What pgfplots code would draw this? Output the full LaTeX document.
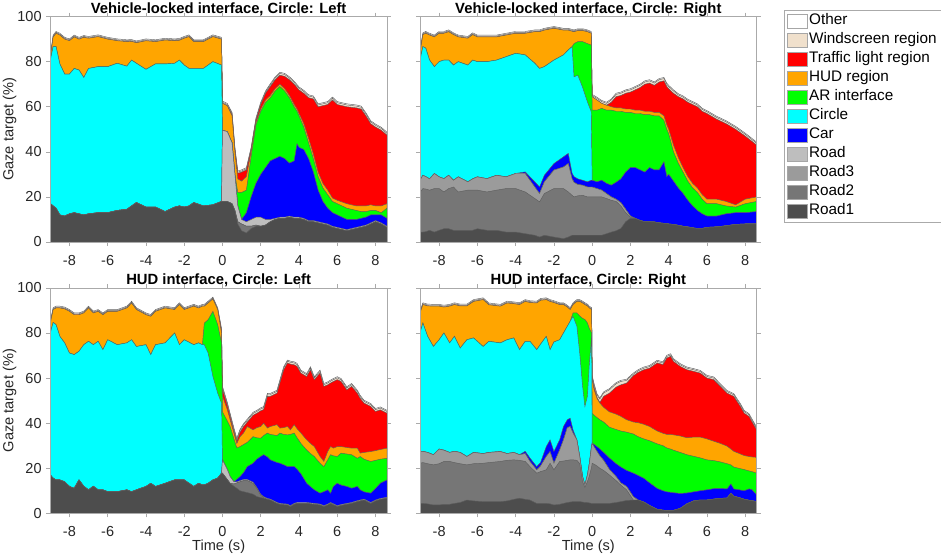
\documentclass[border=0pt]{standalone}
\usepackage{fontspec}
\setmainfont{Liberation Sans}
\usepackage{pgfplots}
\usepackage{pgfplotstable}
\pgfplotsset{compat=1.18}

\definecolor{cOther}{RGB}{255,255,255}
\definecolor{cWind}{RGB}{240,224,204}
\definecolor{cTL}{RGB}{255,0,0}
\definecolor{cHUD}{RGB}{255,165,0}
\definecolor{cAR}{RGB}{0,255,0}
\definecolor{cCir}{RGB}{0,255,255}
\definecolor{cCar}{RGB}{0,0,255}
\definecolor{cRd}{RGB}{190,190,190}
\definecolor{cRthree}{RGB}{155,155,155}
\definecolor{cRtwo}{RGB}{118,118,118}
\definecolor{cRone}{RGB}{77,77,77}
\definecolor{edgecol}{RGB}{95,95,95}
\definecolor{framecol}{RGB}{170,170,170}
\definecolor{labcol}{RGB}{38,38,38}

% columns: t r1 r2 r3 rd car cir ar hud tl ws oth  (cumulative tops of each layer)
\pgfplotstableread{
t r1 r2 r3 rd car cir ar hud tl ws oth
-9.00 17.0 17.0 17.0 17.0 17.0 80.7 80.7 82.0 82.0 82.4 82.8
-8.85 16.0 16.0 16.0 16.0 16.0 86.7 86.7 91.0 91.0 91.4 91.8
-8.70 15.0 15.0 15.0 15.0 15.0 86.7 86.7 92.6 92.6 93.0 93.4
-8.50 12.0 12.0 12.0 12.0 12.0 79.0 79.0 91.8 91.8 92.2 92.6
-8.25 11.5 11.5 11.5 11.5 11.5 74.5 74.5 90.0 90.0 90.4 90.8
-8.00 12.5 12.5 12.5 12.5 12.5 74.5 74.5 89.3 89.3 89.7 90.1
-7.75 13.0 13.0 13.0 13.0 13.0 77.0 77.0 91.0 91.0 91.4 91.8
-7.50 12.5 12.5 12.5 12.5 12.5 76.3 76.3 90.0 90.0 90.4 90.8
-7.25 12.0 12.0 12.0 12.0 12.0 73.0 73.0 90.8 90.8 91.2 91.6
-7.00 12.5 12.5 12.5 12.5 12.5 77.0 77.0 90.4 90.4 90.8 91.2
-6.50 13.0 13.0 13.0 13.0 13.0 77.8 77.8 91.1 91.1 91.5 91.9
-6.00 13.0 13.0 13.0 13.0 13.0 77.8 77.8 90.0 90.0 90.4 90.8
-5.50 14.0 14.0 14.0 14.0 14.0 79.3 79.3 89.3 89.3 89.7 90.1
-5.00 14.5 14.5 14.5 14.5 14.5 78.0 78.0 88.9 88.9 89.3 89.7
-4.75 16.0 16.0 16.0 16.0 16.0 80.7 80.7 89.0 89.0 89.4 89.8
-4.50 17.5 17.5 17.5 17.5 17.5 79.3 79.3 88.4 88.4 88.8 89.2
-4.00 15.5 15.5 15.5 15.5 15.5 76.6 76.6 89.3 89.3 89.7 90.1
-3.50 15.5 15.5 15.5 15.5 15.5 79.0 79.0 88.9 88.9 89.3 89.7
-3.00 13.5 13.5 13.5 13.5 13.5 79.0 79.0 89.6 89.6 90.0 90.4
-2.50 15.5 15.5 15.5 15.5 15.5 79.3 79.3 89.3 89.3 89.7 90.1
-2.25 16.0 16.0 16.0 16.0 16.0 80.7 80.7 89.5 89.5 89.9 90.3
-2.00 15.5 15.5 15.5 15.5 15.5 78.5 78.5 90.4 90.4 90.8 91.2
-1.75 16.0 16.0 16.0 16.0 16.0 77.0 77.0 91.1 91.1 91.5 91.9
-1.50 17.5 17.5 17.5 17.5 17.5 77.0 77.0 88.9 88.9 89.3 89.7
-1.00 16.0 16.0 16.0 16.0 16.0 77.0 77.0 88.9 88.9 89.3 89.7
-0.50 16.5 16.5 16.5 16.5 16.5 80.0 80.0 91.1 91.1 91.5 91.9
-0.05 18.0 18.0 18.0 18.0 18.0 78.5 78.5 90.0 90.0 90.4 90.8
0.00 18.0 18.0 18.0 49.5 49.5 49.5 49.5 61.5 61.5 62.0 62.5
0.25 18.0 18.0 18.0 49.0 49.0 49.0 49.0 60.5 60.5 61.0 61.5
0.50 17.0 17.0 17.0 44.0 44.0 44.0 44.0 56.0 56.5 57.0 57.5
0.65 14.0 14.0 14.0 30.0 30.0 30.0 30.0 40.0 41.0 41.5 42.0
0.80 8.0 9.0 9.0 16.0 16.0 16.0 22.0 28.0 30.5 31.0 31.5
1.00 5.0 8.0 8.0 10.0 10.0 10.0 22.0 27.0 31.0 31.5 32.0
1.25 4.0 7.0 7.0 9.0 13.0 13.0 23.0 29.0 32.0 32.5 33.0
1.50 6.0 7.0 7.0 10.0 20.0 20.0 38.0 40.0 41.0 41.5 42.0
1.75 7.0 7.5 7.5 11.0 26.0 26.0 52.0 53.0 54.0 54.5 55.0
2.00 7.0 7.0 7.0 11.0 30.0 30.0 58.0 59.0 61.0 61.5 62.0
2.25 7.5 7.5 7.5 10.0 33.0 33.0 62.0 63.0 66.0 66.5 67.0
2.50 9.0 9.0 9.0 10.0 36.0 36.0 64.0 65.0 69.0 69.7 70.2
2.75 10.0 10.0 10.0 10.5 37.0 37.0 67.0 68.0 72.0 72.7 73.2
3.00 10.5 10.5 10.5 11.0 38.0 38.0 69.0 70.0 74.0 74.8 75.3
3.25 10.5 10.5 10.5 11.0 37.0 37.0 67.0 68.0 73.5 74.3 74.8
3.50 11.0 11.0 11.0 11.5 35.0 35.0 64.0 65.0 72.0 72.8 73.3
3.75 10.5 10.5 10.5 11.0 36.0 36.0 60.0 61.0 70.0 70.8 71.3
3.90 10.5 10.5 10.5 11.0 43.5 43.5 58.0 59.0 68.5 69.3 69.8
4.00 10.5 10.5 10.5 11.0 42.0 42.0 56.0 57.0 67.5 68.3 68.8
4.25 10.0 10.0 10.0 10.5 41.0 41.0 51.0 52.5 66.0 66.8 67.3
4.50 9.0 9.0 9.0 9.5 37.0 37.0 44.0 46.0 64.0 64.8 65.3
4.75 9.0 9.0 9.0 9.5 31.0 31.0 37.0 39.0 63.5 64.3 64.8
5.00 8.5 8.5 8.5 9.0 23.0 23.0 29.0 31.0 60.0 60.8 61.3
5.25 8.0 8.0 8.0 8.5 18.0 18.0 24.0 26.0 60.5 61.3 61.8
5.50 7.5 7.5 7.5 8.0 15.0 15.0 21.0 23.0 61.0 61.8 62.3
5.75 6.5 6.5 6.5 7.0 13.0 13.0 18.0 19.5 63.0 63.8 64.3
6.00 6.0 6.0 6.0 6.5 12.0 12.0 17.0 18.5 61.0 61.8 62.3
6.50 5.0 5.0 5.0 5.5 10.0 10.0 15.0 17.0 60.0 60.8 61.3
7.00 6.0 6.0 6.0 6.5 10.0 10.0 14.0 16.0 59.5 60.3 60.8
7.25 6.5 6.5 6.5 7.0 10.5 10.5 13.5 16.0 59.0 59.8 60.3
7.50 7.0 7.0 7.0 7.5 11.0 11.0 13.5 16.0 56.0 56.8 57.3
7.75 8.0 8.0 8.0 8.5 12.0 12.0 14.0 16.5 52.5 53.3 53.8
8.00 9.0 9.0 9.0 9.5 12.0 12.0 14.0 16.0 51.0 51.8 52.3
8.30 8.0 8.0 8.0 8.5 12.0 12.0 13.0 16.0 49.6 50.4 50.9
8.60 6.5 6.5 6.5 7.0 10.5 10.5 15.0 17.0 47.4 48.2 48.7
}\TA

\pgfplotstableread{
t r1 r2 r3 rd car cir ar hud tl ws oth
-9.00 4.4 22.0 27.4 27.4 27.4 80.7 80.7 84.0 84.0 84.4 84.8
-8.85 4.4 23.7 29.6 29.6 29.6 86.7 86.7 92.0 92.0 92.4 92.8
-8.70 4.6 23.5 29.0 29.0 29.0 86.0 86.0 92.6 92.6 93.0 93.4
-8.50 5.2 23.0 28.0 28.0 28.0 80.7 80.7 91.8 91.8 92.2 92.6
-8.25 4.4 23.7 30.4 30.4 30.4 77.8 77.8 91.0 91.0 91.4 91.8
-8.00 5.2 23.7 28.9 28.9 28.9 80.0 80.0 92.6 92.6 93.0 93.4
-7.75 5.9 22.2 28.1 28.1 28.1 80.7 80.7 92.6 92.6 93.0 93.4
-7.50 5.9 23.7 29.6 29.6 29.6 80.7 80.7 93.3 93.3 93.7 94.1
-7.25 5.2 24.4 27.4 27.4 27.4 78.5 78.5 92.0 92.0 92.4 92.8
-7.00 5.2 22.2 28.9 28.9 28.9 80.0 80.0 91.0 91.0 91.4 91.8
-6.50 5.2 23.0 26.7 26.7 26.7 78.5 78.5 90.4 90.4 90.8 91.2
-6.25 5.2 23.0 28.0 28.0 28.0 80.7 80.7 92.0 92.0 92.4 92.8
-6.00 5.9 23.0 28.9 28.9 28.9 80.0 80.0 91.0 91.0 91.4 91.8
-5.50 5.2 22.2 28.1 28.1 28.1 80.0 80.0 91.0 91.0 91.4 91.8
-5.00 5.2 23.0 29.6 29.6 29.6 80.7 80.7 91.0 91.0 91.4 91.8
-4.50 4.4 23.7 28.9 28.9 28.9 82.2 82.2 91.8 91.8 92.2 92.6
-4.00 4.4 23.7 30.4 30.4 30.4 83.7 83.7 92.6 92.6 93.0 93.4
-3.50 3.7 22.2 30.4 30.4 31.1 83.0 83.0 92.6 92.6 93.0 93.4
-3.00 3.0 19.3 24.4 24.4 26.7 79.3 79.3 93.3 93.3 93.7 94.1
-2.75 2.2 17.8 21.5 21.5 24.4 77.0 77.0 93.3 93.3 93.7 94.1
-2.50 3.0 21.5 26.7 26.7 29.6 77.8 77.8 94.0 94.0 94.4 94.8
-2.00 2.2 23.7 31.9 31.9 34.8 80.7 80.7 94.8 94.8 95.2 95.6
-1.50 1.5 23.7 33.3 33.3 37.8 83.0 83.0 94.0 94.0 94.4 94.8
-1.25 2.2 22.2 34.8 34.8 39.3 85.2 85.2 94.0 94.0 94.4 94.8
-1.05 3.0 20.7 28.0 28.0 30.5 86.7 86.7 93.5 93.5 93.9 94.3
-0.95 3.0 20.0 26.5 26.5 29.0 73.3 88.0 93.3 93.3 93.7 94.1
-0.75 3.0 20.5 25.5 25.5 28.0 74.0 88.9 93.8 93.8 94.2 94.6
-0.50 3.0 20.7 25.2 25.2 27.4 68.6 88.9 93.8 93.8 94.2 94.6
-0.25 3.0 20.0 24.4 24.4 26.7 62.2 88.0 93.3 93.3 93.7 94.1
-0.05 3.0 20.0 24.4 24.4 27.4 57.8 87.4 92.6 92.6 93.0 93.4
0.00 3.0 20.0 24.4 24.4 27.4 27.4 58.5 64.4 64.4 65.0 65.5
0.25 3.0 20.0 23.7 23.7 26.7 26.7 58.5 63.0 63.0 63.7 64.2
0.50 3.0 20.0 23.0 23.0 27.4 27.4 59.3 61.5 61.5 62.3 62.8
0.75 3.7 19.3 21.5 21.5 26.0 26.0 58.5 60.7 60.7 61.5 62.0
1.00 4.4 18.5 20.0 20.0 25.2 25.2 58.5 60.0 62.0 63.0 63.5
1.25 5.0 18.0 19.0 19.0 26.5 26.5 58.0 59.5 64.5 65.5 66.0
1.50 6.0 16.0 17.5 17.5 28.0 28.0 58.0 59.5 65.0 66.0 66.5
1.75 9.0 13.0 14.5 14.5 31.0 31.0 57.5 59.0 66.0 67.0 67.5
2.00 10.5 11.0 11.5 11.5 33.0 33.0 57.5 59.0 66.5 67.5 68.0
2.25 10.5 10.5 10.5 10.5 33.0 33.0 57.0 58.5 67.5 68.5 69.0
2.50 9.6 9.6 9.6 9.6 32.0 32.0 57.0 58.5 68.5 69.5 70.0
2.75 9.0 9.0 9.0 9.0 31.0 31.0 56.5 58.0 70.0 71.0 71.5
3.00 9.0 9.0 9.0 9.0 33.0 33.0 56.5 58.0 70.5 71.5 72.0
3.25 8.9 8.9 8.9 8.9 32.0 32.0 56.0 57.5 69.5 70.5 71.0
3.50 8.5 8.5 8.5 8.5 32.0 32.0 56.0 57.5 71.0 72.0 72.5
3.75 8.3 8.3 8.3 8.3 35.5 35.5 54.0 56.0 71.5 72.5 73.0
3.90 8.2 8.2 8.2 8.2 29.0 29.0 50.0 52.0 69.0 70.0 70.5
4.00 8.0 8.0 8.0 8.0 30.0 30.0 48.0 50.0 68.0 69.0 69.5
4.25 7.8 7.8 7.8 7.8 27.0 27.0 40.0 43.0 66.0 67.0 67.5
4.50 7.4 7.4 7.4 7.4 24.0 24.0 35.0 37.5 64.5 65.3 65.8
4.75 7.0 7.0 7.0 7.0 21.5 21.5 31.0 33.0 63.5 64.3 64.8
5.00 6.7 6.7 6.7 6.7 18.5 18.5 27.0 29.0 62.0 62.8 63.3
5.25 6.3 6.3 6.3 6.3 16.0 16.0 24.0 26.0 61.0 61.8 62.3
5.50 6.0 6.0 6.0 6.0 14.0 14.0 22.0 24.0 60.0 60.8 61.3
5.75 6.0 6.0 6.0 6.0 12.5 12.5 19.0 21.0 58.0 58.8 59.3
6.00 6.5 6.5 6.5 6.5 11.5 11.5 17.0 19.0 57.0 57.8 58.3
6.50 6.7 6.7 6.7 6.7 11.5 11.5 17.0 19.0 54.5 55.3 55.8
7.00 7.2 7.2 7.2 7.2 12.5 12.5 16.0 18.0 52.5 53.3 53.8
7.50 7.8 7.8 7.8 7.8 13.0 13.0 15.5 16.5 50.0 50.8 51.3
8.00 8.0 8.0 8.0 8.0 13.0 13.0 17.0 19.0 47.0 47.8 48.3
8.60 8.0 8.0 8.0 8.0 13.5 13.5 18.0 20.0 43.0 43.8 44.3
}\TB

\pgfplotstableread{
t r1 r2 r3 rd car cir ar hud tl ws oth
-9.00 17.0 17.0 17.0 17.0 17.0 80.0 80.0 84.4 84.4 84.8 85.2
-8.85 15.6 15.6 15.6 15.6 15.6 84.7 84.7 90.4 90.4 90.8 91.2
-8.70 14.8 14.8 14.8 14.8 14.8 83.7 83.7 91.1 91.1 91.5 91.9
-8.50 14.8 14.8 14.8 14.8 14.8 78.5 78.5 91.1 91.1 91.5 91.9
-8.25 14.0 14.0 14.0 14.0 14.0 75.6 75.6 90.7 90.7 91.1 91.5
-8.00 11.9 11.9 11.9 11.9 11.9 71.1 71.1 89.6 89.6 90.0 90.4
-7.75 11.1 11.1 11.1 11.1 11.1 70.4 70.4 88.1 88.1 88.5 88.9
-7.50 14.8 14.8 14.8 14.8 14.8 71.9 71.9 88.1 88.1 88.5 88.9
-7.25 12.0 12.0 12.0 12.0 12.0 74.8 74.8 88.9 88.9 89.3 89.7
-7.00 10.4 10.4 10.4 10.4 10.4 76.3 76.3 91.1 91.1 91.5 91.9
-6.75 12.0 12.0 12.0 12.0 12.0 74.8 74.8 88.9 88.9 89.3 89.7
-6.50 10.4 10.4 10.4 10.4 10.4 76.3 76.3 89.6 89.6 90.0 90.4
-6.25 10.4 10.4 10.4 10.4 10.4 72.6 72.6 88.1 88.1 88.5 88.9
-6.00 9.6 9.6 9.6 9.6 9.6 77.0 77.0 89.6 89.6 90.0 90.4
-5.50 9.6 9.6 9.6 9.6 9.6 74.8 74.8 89.6 89.6 90.0 90.4
-5.00 10.4 10.4 10.4 10.4 10.4 75.6 75.6 91.1 91.1 91.5 91.9
-4.75 9.6 9.6 9.6 9.6 9.6 77.0 77.0 93.3 93.3 93.7 94.1
-4.50 10.4 10.4 10.4 10.4 10.4 74.0 74.0 90.4 90.4 90.8 91.2
-4.00 11.9 11.9 11.9 11.9 11.9 74.8 74.8 88.1 88.1 88.5 88.9
-3.75 13.3 13.3 13.3 13.3 13.3 70.4 70.4 87.4 87.4 87.8 88.2
-3.50 11.9 11.9 11.9 11.9 11.9 74.8 74.8 89.6 89.6 90.0 90.4
-3.00 13.3 13.3 13.3 13.3 13.3 75.6 75.6 91.1 91.1 91.5 91.9
-2.50 14.8 14.8 14.8 14.8 14.8 80.0 80.0 90.4 90.4 90.8 91.2
-2.25 14.8 14.8 14.8 14.8 14.8 74.8 74.8 92.6 92.6 93.0 93.4
-2.00 14.8 14.8 14.8 14.8 14.8 77.0 77.0 90.4 90.4 90.8 91.2
-1.50 11.9 11.9 11.9 11.9 11.9 74.8 74.8 91.9 91.9 92.3 92.7
-1.25 13.3 13.3 13.3 13.3 13.3 75.6 75.6 91.1 91.1 91.5 91.9
-1.05 12.6 12.6 12.6 12.6 12.6 74.8 74.8 91.9 91.9 92.3 92.7
-0.95 12.6 12.6 12.6 12.6 12.6 74.8 84.4 91.9 91.9 92.3 92.7
-0.75 13.3 13.3 13.3 13.3 13.3 71.1 85.9 93.3 93.3 93.7 94.1
-0.50 14.8 14.8 14.8 14.8 14.8 60.7 89.6 95.1 95.1 95.5 95.9
-0.25 15.6 15.6 15.6 15.6 15.6 53.3 83.7 90.4 90.4 90.8 91.2
-0.05 17.8 17.8 17.8 17.8 17.8 48.9 75.6 80.0 81.0 81.5 82.0
0.00 17.8 17.8 17.8 23.7 23.7 23.7 45.0 52.0 55.0 55.8 56.3
0.25 15.0 15.0 15.0 19.5 19.5 19.5 41.0 46.0 48.0 48.8 49.3
0.40 13.3 13.3 13.3 16.3 16.3 16.3 38.5 41.5 43.0 43.8 44.3
0.60 12.0 13.0 13.0 14.0 14.0 14.0 33.0 35.5 36.5 37.3 37.8
0.75 11.1 13.5 13.5 14.0 15.0 15.0 29.0 31.0 32.0 32.8 33.3
0.92 10.0 14.0 14.0 14.5 16.3 16.3 29.6 34.0 36.0 36.8 37.3
1.10 9.6 14.5 14.5 15.0 18.0 18.0 30.5 35.6 38.5 39.3 39.8
1.30 9.2 14.5 14.5 15.0 20.7 20.7 31.5 38.5 40.5 41.3 41.8
1.60 8.5 13.3 13.3 13.8 22.2 22.2 34.0 37.0 43.5 44.3 44.8
1.80 7.4 11.0 11.0 11.4 24.0 24.0 33.5 38.0 44.4 45.2 45.7
2.00 7.0 8.0 8.0 8.4 25.2 25.2 33.3 38.5 45.5 46.3 46.8
2.15 6.7 7.0 7.0 7.4 26.0 26.0 34.5 40.0 46.0 46.8 47.3
2.35 6.2 6.2 6.2 6.6 25.0 25.0 35.6 37.8 51.9 52.7 53.2
2.50 5.9 5.9 5.9 6.3 23.7 23.7 35.0 38.5 51.9 52.7 53.2
2.85 4.4 4.4 4.4 4.8 22.5 22.5 34.5 39.3 53.3 54.1 54.6
3.00 4.0 4.0 4.0 4.4 22.2 22.2 35.6 37.8 57.8 58.6 59.1
3.20 3.8 3.8 3.8 4.2 21.5 21.5 35.0 38.0 63.7 64.5 65.0
3.40 3.7 3.7 3.7 4.1 20.7 20.7 34.8 38.5 66.7 67.5 68.0
3.55 3.0 3.0 3.0 3.4 20.7 20.7 35.0 37.0 66.2 67.0 67.5
3.75 4.0 4.0 4.0 4.4 20.7 20.7 35.6 39.3 65.9 66.7 67.2
3.90 4.4 4.4 4.4 4.8 19.5 19.5 33.5 37.5 65.2 66.0 66.5
4.10 4.4 4.4 4.4 4.8 17.5 17.5 31.0 35.6 62.2 63.0 63.5
4.40 4.4 4.4 4.4 4.8 13.3 13.3 28.1 32.6 60.7 61.5 62.0
4.60 4.2 4.2 4.2 4.6 11.8 11.8 26.5 31.0 63.7 64.5 65.0
4.80 4.0 4.0 4.0 4.4 10.4 10.4 25.2 29.6 59.3 60.1 60.6
5.10 3.7 3.7 3.7 4.1 8.9 8.9 22.2 25.2 62.2 63.0 63.5
5.30 3.0 3.0 3.0 3.4 9.6 9.6 20.7 23.0 56.3 57.1 57.6
5.50 3.7 3.7 3.7 4.1 10.4 10.4 23.7 27.4 57.0 57.8 58.3
5.65 4.4 4.4 4.4 4.8 8.9 8.9 26.0 29.6 57.8 58.6 59.1
5.80 3.8 3.8 3.8 4.2 11.9 11.9 25.5 28.9 58.5 59.3 59.8
6.00 3.0 3.0 3.0 3.4 13.3 13.3 25.2 29.6 59.3 60.1 60.6
6.20 3.5 3.5 3.5 3.9 12.5 12.5 26.7 29.6 58.5 59.3 59.8
6.50 4.0 4.0 4.0 4.4 11.9 11.9 26.3 29.2 54.8 55.6 56.1
6.75 4.4 4.4 4.4 4.8 11.1 11.1 26.0 28.9 56.3 57.1 57.6
7.05 5.2 5.2 5.2 5.6 11.9 11.9 24.4 28.9 53.3 54.1 54.6
7.20 5.5 5.5 5.5 5.9 10.4 10.4 25.2 26.7 51.0 51.8 52.3
7.40 5.9 5.9 5.9 6.3 9.5 9.5 24.0 27.0 48.9 49.7 50.2
7.75 4.4 4.4 4.4 4.8 8.9 8.9 23.0 27.4 47.4 48.2 48.7
8.00 5.5 5.5 5.5 5.9 11.0 11.0 23.5 27.8 45.2 46.0 46.5
8.25 6.2 6.2 6.2 6.6 13.3 13.3 24.0 28.3 45.9 46.7 47.2
8.60 6.7 6.7 6.7 7.1 14.8 14.8 24.4 28.9 44.4 45.2 45.7
}\TC

\pgfplotstableread{
t r1 r2 r3 rd car cir ar hud tl ws oth
-9.00 4.4 22.2 27.4 27.4 27.4 80.0 80.0 88.9 88.9 89.3 89.7
-8.85 4.4 22.5 27.5 27.5 27.5 84.4 84.4 92.6 92.6 93.0 93.4
-8.60 4.2 22.0 27.0 27.0 27.0 78.5 78.5 92.0 92.0 92.4 92.8
-8.30 3.7 21.5 26.0 26.0 26.0 74.0 74.0 91.9 91.9 92.3 92.7
-8.00 3.7 22.0 28.5 28.5 28.5 77.0 77.0 91.9 91.9 92.3 92.7
-7.75 4.0 23.0 28.0 28.0 28.0 80.0 80.0 91.5 91.5 91.9 92.3
-7.45 4.0 23.0 27.0 27.0 27.0 75.6 75.6 91.9 91.9 92.3 92.7
-7.20 4.4 22.5 27.5 27.5 27.5 78.5 78.5 92.6 92.6 93.0 93.4
-6.90 4.8 22.0 27.0 27.0 27.0 73.3 73.3 92.0 92.0 92.4 92.8
-6.55 5.9 21.5 25.2 25.2 25.2 77.0 77.0 92.0 92.0 92.4 92.8
-6.20 5.5 22.0 27.0 27.0 27.0 77.8 77.8 94.0 94.0 94.4 94.8
-5.70 5.2 22.2 26.5 26.5 26.5 74.0 74.0 94.8 94.8 95.2 95.6
-5.40 5.2 22.5 27.0 27.0 27.0 76.3 76.3 92.5 92.5 92.9 93.3
-4.80 5.2 23.0 27.4 27.4 27.4 75.6 75.6 91.9 91.9 92.3 92.7
-4.45 5.5 23.5 26.5 26.5 26.5 77.0 77.0 93.3 93.3 93.7 94.1
-4.10 6.2 23.7 27.0 27.0 27.0 77.8 77.8 93.0 93.0 93.4 93.8
-3.80 6.7 23.5 26.0 26.0 26.0 72.6 72.6 92.6 92.6 93.0 93.4
-3.50 6.2 23.0 26.5 26.5 27.5 76.3 76.3 94.0 94.0 94.4 94.8
-3.25 5.9 20.7 23.0 23.0 24.5 76.3 76.3 93.5 93.5 93.9 94.3
-2.90 4.4 17.8 19.3 19.3 20.7 72.6 72.6 93.3 93.3 93.7 94.1
-2.70 4.4 18.5 21.0 21.0 22.5 75.0 75.0 94.5 94.5 94.9 95.3
-2.40 4.4 19.3 25.2 25.2 29.6 78.5 78.5 94.8 94.8 95.2 95.6
-2.20 4.2 22.2 27.4 27.4 32.6 72.6 72.6 94.0 94.0 94.4 94.8
-2.00 3.7 19.3 22.2 22.2 27.4 76.0 76.0 93.5 93.5 93.9 94.3
-1.70 4.0 23.0 28.1 28.1 32.6 77.0 77.0 92.6 92.6 93.0 93.4
-1.50 4.4 23.2 32.6 32.6 38.5 80.0 80.0 92.6 92.6 93.0 93.4
-1.30 4.8 23.5 38.0 38.0 41.5 83.0 83.0 91.5 91.5 91.9 92.3
-1.15 5.0 23.7 38.5 38.5 42.2 85.2 85.2 90.4 90.4 90.8 91.2
-1.00 5.2 23.7 35.6 35.6 37.0 87.4 88.9 92.6 92.6 93.0 93.4
-0.80 5.2 23.5 32.6 32.6 32.6 83.0 88.9 94.0 94.0 94.4 94.8
-0.65 5.2 22.0 25.2 25.2 25.2 71.0 87.5 94.0 94.0 94.4 94.8
-0.50 5.0 14.0 16.3 16.3 16.3 56.3 86.5 93.3 93.3 93.7 94.1
-0.38 4.8 11.5 12.6 12.6 12.6 47.4 86.0 92.6 92.6 93.0 93.4
-0.25 4.8 14.0 17.0 17.0 17.0 51.9 84.5 92.0 92.0 92.4 92.8
-0.15 4.6 16.5 22.0 22.0 22.0 66.0 82.0 91.1 91.1 91.5 91.9
-0.03 4.4 20.5 30.0 30.0 30.0 78.5 80.0 90.4 90.4 90.8 91.2
0.00 4.4 22.2 31.1 31.1 31.1 31.1 44.4 59.3 60.0 60.7 61.2
0.10 4.4 21.8 29.5 29.5 30.5 30.5 43.5 54.8 56.0 57.0 57.5
0.25 4.4 21.0 27.5 27.5 29.6 29.6 42.5 51.0 51.5 52.5 53.0
0.40 4.4 20.0 25.5 25.5 28.5 28.5 41.5 48.9 49.2 50.7 51.2
0.60 4.4 19.0 23.5 23.5 27.0 27.0 40.5 47.0 51.9 53.4 53.9
0.90 4.4 17.0 19.5 19.5 24.5 24.5 38.2 45.0 53.3 54.8 55.3
1.25 4.8 14.5 16.3 16.3 22.0 22.0 37.2 44.0 56.0 57.5 58.0
1.50 5.2 12.5 13.5 13.5 20.5 20.5 36.5 43.0 57.0 58.5 59.0
1.80 5.7 10.4 11.9 11.9 19.0 19.0 36.0 41.5 57.8 59.0 59.5
2.15 5.9 5.9 7.4 7.4 17.8 17.8 35.2 40.5 61.0 61.7 62.2
2.40 5.9 5.9 5.9 5.9 16.8 16.8 34.0 40.2 62.5 63.2 63.7
2.70 5.0 5.0 5.0 5.0 15.5 15.5 33.0 39.5 63.7 64.4 64.9
3.00 3.5 3.5 3.5 3.5 13.5 13.5 32.2 38.5 64.4 65.1 65.6
3.40 1.8 1.8 1.8 1.8 11.0 11.0 30.8 36.5 66.7 67.4 67.9
3.70 1.4 1.4 1.4 1.4 10.0 10.0 30.0 35.5 66.0 66.7 67.2
3.90 1.2 1.2 1.2 1.2 9.5 9.5 29.0 35.0 68.9 69.6 70.1
4.10 1.2 1.2 1.2 1.2 9.3 9.3 28.5 35.0 69.6 70.3 70.8
4.25 1.3 1.3 1.3 1.3 9.1 9.1 28.0 34.8 67.4 68.1 68.6
4.60 2.2 2.2 2.2 2.2 8.8 8.8 27.0 34.3 65.2 65.9 66.4
4.95 4.2 4.2 4.2 4.2 9.0 9.0 26.0 33.5 63.7 64.4 64.9
5.30 5.5 5.5 5.5 5.5 9.5 9.5 25.3 33.8 63.0 63.7 64.2
5.65 5.9 5.9 5.9 5.9 10.0 10.0 24.6 33.8 62.2 62.9 63.4
6.00 5.9 5.9 5.9 5.9 10.4 10.4 23.7 33.0 60.0 60.7 61.2
6.35 6.3 6.3 6.3 6.3 10.9 10.9 23.4 32.0 59.3 60.0 60.5
6.70 6.6 6.6 6.6 6.6 11.0 11.0 22.8 31.0 56.3 57.0 57.5
7.05 6.8 6.8 6.8 6.8 10.8 10.8 22.0 29.8 53.3 54.0 54.5
7.25 8.9 8.9 8.9 8.9 13.0 13.0 21.5 28.5 52.5 53.2 53.7
7.40 7.6 7.6 7.6 7.6 10.8 10.8 20.5 27.5 51.9 52.6 53.1
7.75 6.8 6.8 6.8 6.8 10.3 10.3 19.8 26.3 47.4 48.1 48.6
7.95 6.2 6.2 6.2 6.2 10.0 10.0 19.4 25.6 44.4 45.1 45.6
8.20 5.8 5.8 5.8 5.8 10.8 10.8 18.8 25.2 43.0 43.7 44.2
8.35 5.6 5.6 5.6 5.6 10.5 10.5 18.5 25.0 40.7 41.4 41.9
8.60 5.2 5.2 5.2 5.2 8.1 8.1 17.8 24.8 37.0 37.7 38.2
}\TD

\newcommand{\layers}[1]{%
  \addplot[fill=cOther] table[x=t,y=oth]{#1} \closedcycle;
  \addplot[fill=cWind] table[x=t,y=ws]{#1} \closedcycle;
  \addplot[fill=cTL] table[x=t,y=tl]{#1} \closedcycle;
  \addplot[fill=cHUD] table[x=t,y=hud]{#1} \closedcycle;
  \addplot[fill=cAR] table[x=t,y=ar]{#1} \closedcycle;
  \addplot[fill=cCir] table[x=t,y=cir]{#1} \closedcycle;
  \addplot[fill=cCar] table[x=t,y=car]{#1} \closedcycle;
  \addplot[fill=cRd] table[x=t,y=rd]{#1} \closedcycle;
  \addplot[fill=cRthree] table[x=t,y=r3]{#1} \closedcycle;
  \addplot[fill=cRtwo] table[x=t,y=r2]{#1} \closedcycle;
  \addplot[fill=cRone] table[x=t,y=r1]{#1} \closedcycle;
}

\pgfplotsset{
  panel/.style={
    scale only axis, width=336.7pt, height=225.4pt,
    anchor=south west,
    xmin=-9, xmax=8.6, ymin=0, ymax=100,
    xtick={-8,-6,-4,-2,0,2,4,6,8}, ytick={0,20,40,60,80,100},
    tick align=outside, major tick length=4pt,
    axis line style={framecol, line width=0.6pt},
    tick style={framecol, line width=0.6pt},
    /pgf/number format/assume math mode=true,
    ticklabel style={font=\fontsize{14.5}{17}\selectfont, text=labcol, inner sep=0pt},
    xticklabel style={anchor=north, yshift=-9pt},
    yticklabel style={anchor=east, xshift=-4.5pt},
    title style={font=\bfseries\fontsize{14.8}{17}\selectfont, at={(axis description cs:0.5,1)}, anchor=base, yshift=-2.5pt, inner sep=0pt, text=black},
    label style={font=\fontsize{14.6}{17}\selectfont, text=labcol, inner sep=0pt},
    every axis plot/.append style={draw=edgecol, line width=0.45pt},
    axis on top,
  },
}

\begin{document}
\begin{tikzpicture}
\path[use as bounding box] (0pt,0pt) rectangle (941pt,558pt);

\begin{axis}[panel, at={(50.3pt,316pt)},
  title={Vehicle-locked interface, Circle: Left},
  ylabel={Gaze target (\%)},
  ylabel style={at={(axis description cs:-0.11,0.5)}, anchor=base, rotate=0},
]
\layers{\TA}
\end{axis}

\begin{axis}[panel, at={(420pt,316pt)},
  title={Vehicle-locked interface, Circle: Right},
  yticklabels={},
  legend style={at={(axis description cs:1.0805,1.031)}, anchor=north west,
    draw=framecol, line width=0.6pt, fill=white,
    font=\fontsize{15.3}{18}\selectfont, text=black,
    inner xsep=3pt, inner ysep=4pt, row sep=4.9pt,
    nodes={inner xsep=1.5pt, inner ysep=0pt, text height=10.8pt, text depth=3pt}},
  legend cell align=left,
  legend image code/.code={\draw[#1, draw=gray!70, line width=0.5pt] (0pt,-6.8pt) rectangle (20pt,6.8pt);},
]
\layers{\TB}
\legend{Other,Windscreen region,Traffic light region,HUD region,AR interface,Circle,Car,Road,Road3,Road2,Road1}
\end{axis}

\begin{axis}[panel, at={(50.3pt,44.7pt)},
  title={HUD interface, Circle: Left},
  ylabel={Gaze target (\%)},
  ylabel style={at={(axis description cs:-0.11,0.5)}, anchor=base, rotate=0},
  xlabel={Time (s)},
  xlabel style={at={(axis description cs:0.5,-0.163)}, anchor=base},
]
\layers{\TC}
\end{axis}

\begin{axis}[panel, at={(420pt,44.7pt)},
  title={HUD interface, Circle: Right},
  yticklabels={},
  xlabel={Time (s)},
  xlabel style={at={(axis description cs:0.5,-0.163)}, anchor=base},
]
\layers{\TD}
\end{axis}
\end{tikzpicture}
\end{document}
